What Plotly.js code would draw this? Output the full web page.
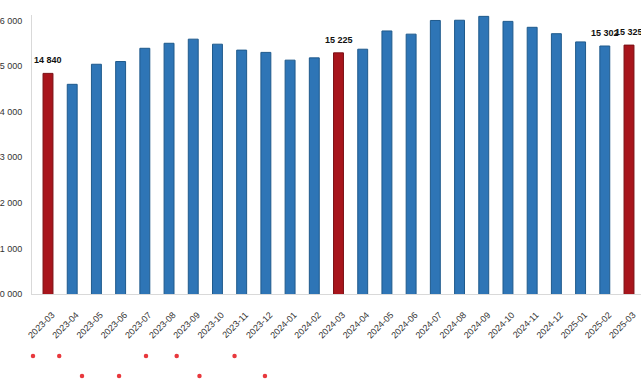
<!DOCTYPE html>
<html>
<head>
<meta charset="utf-8">
<script src="https://cdn.plot.ly/plotly-3.0.1.min.js"></script>
<style>
html,body{margin:0;padding:0;background:#fff;overflow:hidden;width:641px;height:380px;}
#chart{width:645px;height:380px;}
</style>
</head>
<body>
<div id="chart"></div>
<script>
// Months (categories)
const months = ["2023-03","2023-04","2023-05","2023-06","2023-07","2023-08","2023-09","2023-10","2023-11","2023-12",
  "2024-01","2024-02","2024-03","2024-04","2024-05","2024-06","2024-07","2024-08","2024-09","2024-10","2024-11","2024-12",
  "2025-01","2025-02","2025-03"];
// Bar values
const values = [14840,14600,15040,15100,15390,15500,15590,15480,15350,15300,
  15130,15180,15290,15370,15770,15700,16000,16005,16090,15980,15850,15710,
  15530,15440,15460];
// Printed value labels
const labels = ["14 840","","","","","","","","","",
  "","","15 225","","","","","","","","","",
  "","15 302","15 325"];
// Highlighted months (red bars)
const highlighted = ["2023-03","2024-03","2025-03"];
// Y tick values
const yTicks = [10000,11000,12000,13000,14000,15000,16000];
// Decorative red dots under the axis: position in category index, row number
const dotIndex = [-0.46,0.61,4.15,5.4,7.76,1.54,3.05,6.33,9.0];
const dotRow = [1,1,1,1,1,2,2,2,2];

const BLUE = "#2E75B6", BLUE_EDGE = "#1F5A8C";
const RED = "#A8151C", RED_EDGE = "#7A1015";
const fillColors = months.map(m => highlighted.includes(m) ? RED : BLUE);
const edgeColors = months.map(m => highlighted.includes(m) ? RED_EDGE : BLUE_EDGE);

const bars = {
  type: "bar",
  x: months,
  y: values,
  marker: {color: fillColors, line: {color: edgeColors, width: 1}},
  hoverinfo: "x+y",
  showlegend: false
};

const dots = {
  type: "scatter",
  mode: "markers",
  x: dotIndex,
  y: dotRow,
  xaxis: "x2",
  yaxis: "y2",
  cliponaxis: false,
  marker: {color: "#E8383D", size: 4.5},
  hoverinfo: "skip",
  showlegend: false
};

const valueLabels = [];
months.forEach((m, i) => {
  if (labels[i]) {
    valueLabels.push({
      xref: "x", yref: "y",
      x: m, y: values[i],
      text: labels[i],
      showarrow: false,
      xanchor: "center", yanchor: "bottom",
      yshift: 6,
      font: {family: "Liberation Sans, Arial, sans-serif", size: 9, color: "#111", weight: "bold"}
    });
  }
});

const layout = {
  width: 645,
  height: 380,
  margin: {l: 32, r: 0, t: 14.5, b: 0},
  paper_bgcolor: "#fff",
  plot_bgcolor: "rgba(0,0,0,0)",
  separators: ". ",
  bargap: 0.59,
  font: {family: "Liberation Sans, Arial, sans-serif", color: "#333"},
  annotations: valueLabels,
  xaxis: {
    type: "category",
    anchor: "y",
    tickangle: -45,
    showline: true,
    linecolor: "#d9d9d9",
    linewidth: 1,
    showgrid: false,
    ticks: "",
    ticklabelstandoff: 11,
    ticklabelshift: 4,
    tickfont: {size: 9, color: "#333"},
    automargin: false
  },
  yaxis: {
    domain: [0.2353, 1],
    range: [10000, 16120],
    tickvals: yTicks,
    tickformat: ",d",
    showline: true,
    linecolor: "#d9d9d9",
    linewidth: 1,
    showgrid: false,
    zeroline: false,
    ticks: "",
    ticklabelstandoff: 7,
    tickfont: {size: 9, color: "#333"},
    automargin: false
  },
  xaxis2: {
    anchor: "y2",
    range: [-0.5, 24.5],
    visible: false,
    showgrid: false,
    zeroline: false
  },
  yaxis2: {
    domain: [0, 0.2353],
    anchor: "x2",
    range: [2.2, -2.1],
    visible: false,
    showgrid: false,
    zeroline: false
  }
};

Plotly.newPlot("chart", [bars, dots], layout, {displayModeBar: false, staticPlot: true});
</script>
</body>
</html>
